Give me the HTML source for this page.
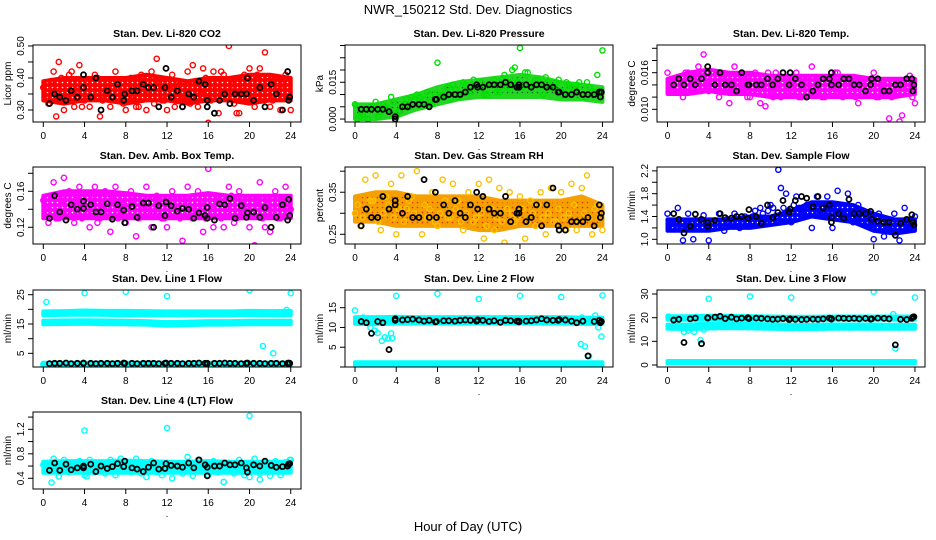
<!DOCTYPE html>
<html><head><meta charset="utf-8"><title>NWR_150212 Std. Dev. Diagnostics</title>
<style>
html,body{margin:0;padding:0;background:#fff;}
svg{display:block;font-family:"Liberation Sans",Arial,sans-serif;}
</style></head>
<body>
<svg id="chart" width="936" height="540" viewBox="0 0 936 540" xmlns="http://www.w3.org/2000/svg">
<defs id="defs"></defs>
<rect x="0" y="0" width="936" height="540" fill="#fff"/>
<text x="468" y="14" text-anchor="middle" font-size="13">NWR_150212  Std. Dev. Diagnostics</text>
<text x="468" y="531" text-anchor="middle" font-size="13">Hour of Day (UTC)</text>
</svg>
<script>
// ---------- shared data ----------
const xTicks = [0,4,8,12,16,20,24];
const blackT = [0.6,1.1,1.6,2.2,2.7,3.3,3.9,3.9,4.6,5.1,5.6,6.2,6.7,7.2,7.8,7.9,8.6,9.1,9.7,10.2,10.7,11.2,11.8,11.9,12.4,13.0,13.5,14.1,14.6,15.1,15.7,15.9,15.9,16.6,17.1,17.6,18.1,18.6,19.2,19.7,19.8,20.4,21.0,21.5,22.1,22.6,23.2,23.7,23.8,23.9];

// ---------- CO2 ----------
const co2Lo = [0.33,0.32,0.33,0.33,0.32,0.33,0.33,0.32,0.33,0.33,0.32,0.33,0.33];
const co2Hi = [0.39,0.40,0.40,0.40,0.40,0.41,0.40,0.39,0.40,0.40,0.41,0.41,0.40];
const co2A = [0.37,0.32,0.42,0.45,0.30,0.41,0.31,0.44,0.33,0.31,0.41,0.28,0.36,0.31,0.42,0.33,0.30,0.40,0.31,0.41,0.30,0.42,0.46,0.33,0.30,0.41,0.36,0.31,0.42,0.44,0.31,0.43,0.26,0.42,0.29,0.41,0.50,0.32,0.29,0.41,0.43,0.31,0.43,0.48,0.31,0.40,0.30,0.41,0.30];
const co2B = [0.34,0.39,0.28,0.40,0.33,0.42,0.36,0.31,0.39,0.34,0.40,0.33,0.35,0.39,0.34,0.32,0.39,0.33,0.31,0.39,0.35,0.32,0.39,0.33,0.37,0.31,0.38,0.34,0.32,0.39,0.35,0.40,0.33,0.37,0.42,0.34,0.38,0.29,0.36,0.40,0.34,0.41,0.35,0.39,0.33,0.36,0.38,0.34];
const co2Black = [0.32,0.35,0.34,0.33,0.36,0.34,0.41,0.37,0.34,0.40,0.30,0.36,0.34,0.38,0.33,0.35,0.36,0.36,0.38,0.37,0.37,0.31,0.37,0.43,0.34,0.36,0.31,0.35,0.34,0.39,0.38,0.33,0.31,0.29,0.33,0.35,0.32,0.35,0.35,0.35,0.40,0.33,0.37,0.31,0.38,0.35,0.30,0.42,0.33,0.34];

// ---------- Pressure ----------
const prLo = [0.000,0.000,0.001,0.004,0.006,0.008,0.009,0.009,0.009,0.009,0.008,0.008,0.007];
const prHi = [0.006,0.006,0.008,0.010,0.013,0.015,0.016,0.017,0.018,0.017,0.015,0.014,0.013];
const prA = [0.006,0.001,0.004,0.005,0.007,0.003,0.005,0.009,0.001,0.005,0.008,0.009,0.010,0.005,0.011,0.006,0.023,0.010,0.013,0.014,0.009,0.015,0.011,0.016,0.013,0.010,0.014,0.016,0.011,0.018,0.015,0.021,0.029,0.019,0.013,0.016,0.014,0.017,0.013,0.015,0.011,0.015,0.013,0.014,0.010,0.015,0.011,0.018,0.028];
const prB = [0.000,0.002,0.000,0.005,0.001,0.006,0.004,0.007,0.003,0.006,0.005,0.008,0.009,0.008,0.007,0.010,0.009,0.011,0.008,0.012,0.010,0.014,0.011,0.013,0.015,0.010,0.014,0.011,0.016,0.013,0.020,0.015,0.013,0.019,0.014,0.016,0.010,0.015,0.013,0.016,0.011,0.014,0.013,0.015,0.009,0.013,0.011,0.010];
const prBlack = [0.004,0.004,0.004,0.004,0.004,0.003,0.001,0.000,0.005,0.005,0.006,0.006,0.006,0.005,0.008,0.008,0.009,0.010,0.010,0.010,0.011,0.013,0.014,0.013,0.013,0.014,0.014,0.014,0.015,0.014,0.013,0.014,0.013,0.014,0.013,0.014,0.014,0.013,0.013,0.011,0.011,0.010,0.010,0.011,0.010,0.010,0.010,0.011,0.009,0.011];

// ---------- Li-820 Temp ----------
const tpLo = [0.0125,0.0125,0.013,0.0125,0.0125,0.012,0.012,0.012,0.012,0.012,0.012,0.012,0.0125];
const tpHi = [0.0150,0.0160,0.0165,0.0160,0.0160,0.0155,0.0155,0.0155,0.0155,0.0155,0.0150,0.0150,0.0150];
const tpA = [0.016,0.013,0.015,0.012,0.016,0.014,0.017,0.019,0.013,0.016,0.012,0.015,0.011,0.017,0.013,0.015,0.012,0.016,0.011,0.0105,0.013,0.016,0.012,0.015,0.013,0.016,0.012,0.015,0.017,0.013,0.012,0.015,0.013,0.016,0.012,0.015,0.013,0.011,0.015,0.013,0.016,0.012,0.014,0.0085,0.0125,0.008,0.014,0.0155,0.011];
const tpB = [0.014,0.015,0.013,0.016,0.014,0.015,0.013,0.014,0.016,0.013,0.015,0.014,0.013,0.015,0.014,0.012,0.015,0.013,0.014,0.016,0.012,0.014,0.015,0.013,0.014,0.012,0.015,0.014,0.013,0.015,0.012,0.014,0.016,0.013,0.014,0.015,0.012,0.014,0.013,0.015,0.012,0.014,0.013,0.012,0.014,0.009,0.013,0.012];
const tpBlack = [0.014,0.015,0.014,0.015,0.014,0.015,0.016,0.017,0.014,0.016,0.014,0.014,0.013,0.016,0.014,0.014,0.014,0.014,0.015,0.014,0.015,0.016,0.014,0.016,0.015,0.014,0.012,0.013,0.014,0.015,0.015,0.016,0.014,0.014,0.015,0.015,0.014,0.014,0.013,0.014,0.015,0.015,0.013,0.013,0.014,0.014,0.015,0.015,0.013,0.014];

// ---------- Amb Box Temp ----------
const abLo = [0.13,0.13,0.13,0.13,0.13,0.13,0.13,0.13,0.13,0.13,0.13,0.13,0.13];
const abHi = [0.155,0.16,0.16,0.16,0.158,0.155,0.155,0.155,0.158,0.155,0.155,0.155,0.155];
const abA = [0.15,0.125,0.17,0.13,0.175,0.16,0.125,0.165,0.14,0.12,0.165,0.13,0.16,0.115,0.165,0.135,0.125,0.16,0.11,0.14,0.165,0.12,0.155,0.13,0.12,0.16,0.135,0.105,0.165,0.13,0.16,0.115,0.185,0.12,0.15,0.12,0.165,0.125,0.16,0.135,0.12,0.10,0.17,0.12,0.115,0.16,0.13,0.165,0.14];
const abB = [0.14,0.155,0.13,0.15,0.135,0.145,0.15,0.13,0.14,0.155,0.125,0.145,0.14,0.15,0.13,0.145,0.14,0.15,0.13,0.145,0.14,0.135,0.15,0.13,0.145,0.14,0.13,0.15,0.14,0.135,0.145,0.13,0.14,0.15,0.13,0.14,0.155,0.13,0.145,0.14,0.135,0.15,0.13,0.145,0.14,0.13,0.15,0.14];
const abBlack = [0.13,0.155,0.137,0.128,0.145,0.14,0.149,0.141,0.145,0.137,0.137,0.146,0.129,0.145,0.139,0.125,0.143,0.131,0.147,0.147,0.12,0.144,0.133,0.148,0.144,0.138,0.141,0.14,0.13,0.136,0.133,0.142,0.13,0.128,0.146,0.145,0.152,0.13,0.144,0.131,0.136,0.137,0.131,0.142,0.12,0.131,0.145,0.128,0.151,0.133];

// ---------- Gas Stream RH ----------
const rhLo = [0.28,0.28,0.27,0.27,0.27,0.27,0.26,0.26,0.27,0.27,0.27,0.27,0.27];
const rhHi = [0.34,0.35,0.35,0.34,0.34,0.34,0.34,0.33,0.33,0.33,0.33,0.34,0.32];
const rhA = [0.30,0.27,0.38,0.33,0.39,0.26,0.34,0.37,0.25,0.39,0.31,0.34,0.40,0.25,0.29,0.35,0.27,0.38,0.29,0.37,0.33,0.26,0.35,0.28,0.37,0.24,0.38,0.26,0.36,0.23,0.35,0.28,0.34,0.24,0.33,0.27,0.35,0.25,0.36,0.28,0.35,0.26,0.37,0.26,0.36,0.39,0.25,0.32,0.26];
const rhB = [0.32,0.29,0.31,0.33,0.28,0.30,0.32,0.29,0.31,0.28,0.33,0.30,0.29,0.32,0.31,0.28,0.30,0.33,0.29,0.31,0.28,0.30,0.32,0.29,0.30,0.27,0.31,0.29,0.28,0.31,0.30,0.29,0.31,0.28,0.30,0.32,0.29,0.30,0.28,0.31,0.29,0.30,0.32,0.28,0.30,0.29,0.31,0.29];
const rhBlack = [0.27,0.31,0.29,0.29,0.34,0.31,0.33,0.32,0.30,0.34,0.29,0.29,0.38,0.29,0.35,0.29,0.32,0.30,0.33,0.30,0.29,0.32,0.35,0.31,0.34,0.31,0.30,0.30,0.34,0.28,0.30,0.31,0.30,0.28,0.29,0.32,0.27,0.32,0.36,0.27,0.26,0.26,0.28,0.28,0.28,0.29,0.27,0.32,0.29,0.30];

// ---------- Sample Flow ----------
const sfLo = [1.15,1.15,1.15,1.2,1.2,1.25,1.3,1.4,1.35,1.3,1.15,1.1,1.15];
const sfHi = [1.35,1.35,1.35,1.35,1.4,1.4,1.5,1.65,1.65,1.6,1.45,1.35,1.35];
const sfA = [1.45,1.2,1.55,0.98,1.45,1.0,1.3,1.42,0.98,1.2,1.45,1.15,1.3,1.45,1.2,1.4,1.25,1.5,1.55,1.3,1.6,1.4,1.9,1.8,1.3,1.75,1.45,1.6,1.2,1.75,1.4,1.75,1.2,1.85,1.55,1.8,1.3,1.6,1.5,1.35,1.0,1.45,1.05,1.2,1.45,0.98,1.55,1.2,1.4];
const sfB = [1.25,1.3,1.2,1.25,1.3,1.2,1.28,1.25,1.3,1.28,1.3,1.35,1.3,1.32,1.35,1.3,1.4,1.38,1.45,1.5,1.55,2.22,1.55,1.5,1.6,1.55,1.5,1.6,1.55,1.5,1.45,1.55,1.5,1.45,1.4,1.5,1.35,1.3,1.4,1.25,1.3,1.2,1.25,1.15,1.3,1.2,1.25,1.3];
const sfBlack = [1.45,1.35,1.11,1.23,1.44,1.35,1.29,1.23,1.33,1.45,1.38,1.37,1.40,1.40,1.37,1.52,1.40,1.28,1.60,1.38,1.47,1.68,1.48,1.53,1.68,1.75,1.72,1.57,1.75,1.55,1.6,1.3,1.38,1.45,1.37,1.70,1.45,1.45,1.45,1.49,1.35,1.32,1.30,1.30,1.07,1.28,1.35,1.43,1.3,1.25];

// ---------- Line 1 ----------
const l1UpLo = [18.0,18.1,18.2,18.1,18.0,18.0,18.0,18.0,18.0,18.0,18.1,18.0,18.0];
const l1UpHi = [19.3,19.4,19.6,19.5,19.5,19.4,19.3,19.3,19.3,19.3,19.5,19.4,19.5];
const l1MidLo = [14.9,15.0,15.1,14.9,14.9,14.8,14.4,14.6,14.8,14.8,14.9,14.9,14.9];
const l1MidHi = [16.1,16.2,16.3,16.2,16.1,16.0,15.7,15.8,16.0,16.0,16.1,16.1,16.1];
const l1BotLo = [1.0,1.0,1.0,1.0,1.0,1.0,1.0,1.0,1.0,1.0,1.0,1.0,1.0];
const l1BotHi = [1.8,1.8,1.8,1.8,1.8,1.8,1.8,1.8,1.8,1.8,1.8,1.8,1.8];
const l1OutT = [0,0.3,4,8,12,20,21.3,22.3,24,23.6];
const l1OutV = [1.3,22.5,25.5,26,24.5,26.5,7.5,5,25.5,19.8];
const l1Black = [1.5,1.6,1.6,1.7,1.5,1.6,1.6,1.7,1.6,1.5,1.6,1.6,1.5,1.6,1.7,1.6,1.6,1.5,1.6,1.6,1.6,1.5,1.6,1.7,1.6,1.6,1.5,1.6,1.6,1.7,1.6,1.6,1.5,1.6,1.6,1.7,1.6,1.6,1.5,1.6,1.7,1.6,1.6,1.5,1.6,1.6,1.5,1.6,1.7,1.6];

// ---------- Line 2 ----------
const l2MidLo = [10.9,10.8,11.0,11.0,11.0,11.0,11.0,11.0,11.0,11.0,11.0,10.9,10.9];
const l2MidHi = [12.6,12.6,12.7,12.6,12.6,12.6,12.6,12.6,12.6,12.6,12.6,12.5,12.5];
const l2BotLo = [0.4,0.4,0.4,0.4,0.4,0.4,0.4,0.4,0.4,0.4,0.4,0.4,0.4];
const l2BotHi = [1.2,1.2,1.2,1.2,1.2,1.2,1.2,1.2,1.2,1.2,1.2,1.2,1.2];
const l2OutT = [0,4,8,12,16,20,24,1.5,1.9,2.2,2.6,2.9,3.2,3.5,3.6,21.9,22.3,22.7,23.3,23.6,23.9,0.8,22.0];
const l2OutV = [14.3,18,18.5,17.2,18,17.7,18.1,10,9.2,8.6,6.6,7.5,7.2,8.5,7.3,5.8,5.2,2.8,13,10,7.7,12.5,12.5];
const l2Black = [11.5,11.2,8.5,11.5,11.2,4.4,11.8,12.2,11.9,12.0,12.1,11.9,11.6,11.8,11.4,11.5,11.7,11.7,11.6,11.8,11.9,11.8,11.6,11.9,11.8,11.5,11.7,11.3,11.8,11.7,11.6,11.6,11.4,11.6,11.7,11.9,12.2,11.9,11.8,11.8,12.0,11.9,11.6,11.2,11.6,2.8,11.5,11.8,11.2,11.5];

// ---------- Line 3 ----------
const l3UpLo = [19.2,19.2,19.3,19.3,19.2,19.2,19.2,19.2,19.2,19.2,19.2,19.2,19.2];
const l3UpHi = [20.6,20.6,20.8,20.8,20.6,20.5,20.4,20.4,20.5,20.5,20.5,20.5,20.5];
const l3MidLo = [15.3,15.2,15.4,15.6,15.5,15.3,15.2,15.2,15.3,15.3,15.3,15.3,15.3];
const l3MidHi = [17.0,17.1,17.5,17.6,17.4,17.2,17.0,17.0,17.1,17.1,17.1,17.0,17.0];
const l3BotLo = [0.7,0.7,0.7,0.7,0.7,0.7,0.7,0.7,0.7,0.7,0.7,0.7,0.7];
const l3BotHi = [1.7,1.7,1.7,1.7,1.7,1.7,1.7,1.7,1.7,1.7,1.7,1.7,1.7];
const l3OutT = [4,8,12,20,24,1.6,2.0,2.6,3.2,3.5,21.9,22.1,0.1];
const l3OutV = [28,29,28.5,31,28.5,14,14.5,14,10.5,15,21.5,7,20.5];
const l3Black = [19,19.3,9.5,19.5,19.8,9.0,20,19.8,20.2,20.6,19.6,20.2,19.5,19.8,20,19.6,19.8,19.7,19.5,19.3,19.4,19.6,19.2,19.5,19.3,19.2,19.3,19.4,19.3,19.5,19.8,19.6,19.4,19.8,19.7,19.6,19.7,19.5,19.7,19.4,19.5,19.8,19.7,19.5,8.5,19.3,19.2,19.7,20.2,20.4];

// ---------- Line 4 ----------
const l4Lo = [0.49,0.49,0.49,0.49,0.49,0.49,0.49,0.49,0.49,0.49,0.49,0.49,0.49];
const l4Hi = [0.67,0.68,0.68,0.68,0.69,0.68,0.67,0.67,0.68,0.67,0.67,0.67,0.67];
const l4A = [0.62,0.55,0.72,0.43,0.7,0.5,0.62,0.68,0.45,0.7,0.5,0.65,0.48,0.7,0.45,0.72,0.6,0.5,0.72,0.48,0.42,0.68,0.5,0.45,0.65,0.4,0.62,0.48,0.75,0.44,0.7,0.52,0.45,0.68,0.5,0.34,0.65,0.48,0.7,0.45,0.42,0.72,0.48,0.66,0.44,0.68,0.45,0.66,0.7];
const l4OutT = [4,12,20,0.8,17.5,21,4.2,23.9];
const l4OutV = [1.18,1.22,1.42,0.33,0.34,0.38,0.43,0.7];
const l4Black = [0.53,0.65,0.53,0.63,0.54,0.57,0.6,0.57,0.63,0.51,0.6,0.56,0.59,0.64,0.59,0.68,0.57,0.55,0.51,0.58,0.65,0.55,0.56,0.64,0.61,0.6,0.58,0.65,0.57,0.7,0.62,0.44,0.58,0.6,0.6,0.65,0.62,0.62,0.65,0.57,0.5,0.62,0.6,0.68,0.61,0.58,0.59,0.6,0.63,0.64];

// ---------- layout ----------
const NS = "http://www.w3.org/2000/svg";
const svg = document.getElementById('chart');
const defs = document.getElementById('defs');
const colLeft = [33, 345, 657];
const colX0 = [43.3, 355, 667.5];
const boxW = 268;
const rowTop = [45, 167, 290, 412];
const boxH = 77;
const PXH = 10.31;

function mk(tag, attrs, parent){
  const e = document.createElementNS(NS, tag);
  for (const k in attrs) e.setAttribute(k, attrs[k]);
  (parent || svg).appendChild(e);
  return e;
}

let patCount = 0;
function makePattern(color, dark){
  const id = 'pat' + (patCount++);
  const p = mk('pattern', {id: id, patternUnits: 'userSpaceOnUse', width: 5, height: 5}, defs);
  mk('rect', {x: 0, y: 0, width: 5, height: 5, fill: color}, p);
  mk('circle', {cx: 2.5, cy: 2.5, r: 0.8, fill: dark}, p);
  return 'url(#' + id + ')';
}

function drawPanel(p){
  const left = colLeft[p.col], top = rowTop[p.row], bottom = top + boxH;
  const xs = t => colX0[p.col] + t * PXH;
  const ys = v => bottom - (v - p.dmin) / (p.dmax - p.dmin) * boxH;
  const g = mk('g', {});
  
  
  const clipId = 'clip-' + p.name;
  const cp = mk('clipPath', {id: clipId}, g);
  mk('rect', {x: left, y: top, width: boxW, height: boxH}, cp);
  const plot = mk('g', {'clip-path': 'url(#' + clipId + ')'}, g);
  
  

  const fill = p.texture ? makePattern(p.bandColor, p.texture) : p.bandColor;
  (p.bands || []).forEach(b => {
    const lo = b[0], hi = b[1];
    let pts = [];
    for (let i = 0; i < hi.length; i++) pts.push(xs(i * 2) + ',' + ys(hi[i]));
    for (let i = lo.length - 1; i >= 0; i--) pts.push(xs(i * 2) + ',' + ys(lo[i]));
    const poly = mk('polygon', {points: pts.join(' '), fill: fill, stroke: p.bandColor, 'stroke-width': 4, 'stroke-linejoin': 'round'}, plot);
    
    
  });
  function pt(t, v, color, sw, r, nm){
    const c = mk('circle', {cx: xs(t), cy: ys(v), r: r, fill: 'none', stroke: color, 'stroke-width': sw}, plot);
    
    
  }
  (p.clouds || []).forEach((arr, ci) => {
    arr.forEach((v, i) => pt(i * 0.5 + ci * 0.25, v, p.color, 1.4, 2.6, p.name + '-point'));
  });
  if (p.outT) p.outT.forEach((t, i) => pt(t, p.outV[i], p.color, 1.4, 2.6, p.name + '-outlier'));
  p.black.forEach((v, i) => pt(blackT[i], v, '#000', 1.8, 2.5, p.name + '-hourly-point'));

  const box = mk('rect', {x: left, y: top, width: boxW, height: boxH, fill: 'none', stroke: '#000', 'stroke-width': 1}, g);
  
  

  xTicks.forEach(t => {
    const x = xs(t);
    mk('line', {x1: x, y1: bottom, x2: x, y2: bottom + 5, stroke: '#000'}, g);
    const tx = mk('text', {x: x, y: bottom + 17, 'text-anchor': 'middle', 'font-size': 10}, g);
    tx.textContent = t;
    
    
  });
  const dot = mk('text', {x: left + boxW / 2, y: bottom + 28, 'text-anchor': 'middle', 'font-size': 9}, g);
  dot.textContent = '.';
  
  

  p.yTicks.forEach(v => {
    const y = ys(v);
    if (y < top - 1 || y > bottom + 1) return;
    mk('line', {x1: left - 5, y1: y, x2: left, y2: y, stroke: '#000'}, g);
  });
  p.yLabels.forEach(v => {
    const y = ys(v);
    const tx = mk('text', {x: 0, y: 0, 'text-anchor': 'middle', 'font-size': 10, transform: 'translate(' + (left - 9) + ',' + y + ') rotate(-90)'}, g);
    tx.textContent = v.toFixed(p.dec);
    
    
  });
  const yl = mk('text', {x: 0, y: 0, 'text-anchor': 'middle', 'font-size': 10, transform: 'translate(' + (left - 22) + ',' + (top + boxH / 2) + ') rotate(-90)'}, g);
  yl.textContent = p.ylab;
  
  
  const tt = mk('text', {x: left + boxW / 2, y: top - 8, 'text-anchor': 'middle', 'font-size': 10.5, 'font-weight': 'bold'}, g);
  tt.textContent = p.title;
  
  
}

const panels = [
  {name:'co2', row:0, col:0, title:'Stan. Dev. Li-820 CO2', ylab:'Licor ppm', dmin:0.2625, dmax:0.503, dec:2,
   yTicks:[0.30,0.35,0.40,0.45,0.50], yLabels:[0.30,0.40,0.50], color:'#ff0000', bandColor:'#ff0000', texture:'#ffffff',
   bands:[[co2Lo,co2Hi]], clouds:[co2A,co2B], black:co2Black},
  {name:'pressure', row:0, col:1, title:'Stan. Dev. Li-820 Pressure', ylab:'kPa', dmin:-0.0012, dmax:0.0302, dec:3,
   yTicks:[0,0.005,0.010,0.015,0.020,0.025,0.030], yLabels:[0,0.015], color:'#00e000', bandColor:'#22d822', texture:'#006600',
   bands:[[prLo,prHi]], clouds:[prA,prB], black:prBlack},
  {name:'li820-temp', row:0, col:2, title:'Stan. Dev. Li-820 Temp.', ylab:'degrees C', dmin:0.00792, dmax:0.02054, dec:3,
   yTicks:[0.010,0.012,0.014,0.016,0.018,0.020], yLabels:[0.010,0.016], color:'#ff00ff', bandColor:'#ff00ff', texture:'#ffffff',
   bands:[[tpLo,tpHi]], clouds:[tpA,tpB], black:tpBlack},
  {name:'amb-box-temp', row:1, col:0, title:'Stan. Dev. Amb. Box Temp.', ylab:'degrees C', dmin:0.1014, dmax:0.187, dec:2,
   yTicks:[0.12,0.14,0.16,0.18], yLabels:[0.12,0.16], color:'#ff00ff', bandColor:'#ff00ff', texture:'#ffffff',
   bands:[[abLo,abHi]], clouds:[abA,abB], black:abBlack},
  {name:'gas-rh', row:1, col:1, title:'Stan. Dev. Gas Stream RH', ylab:'percent', dmin:0.2269, dmax:0.410, dec:2,
   yTicks:[0.25,0.30,0.35,0.40], yLabels:[0.25,0.35], color:'#ffc000', bandColor:'#f5a000', texture:'#e03000',
   bands:[[rhLo,rhHi]], clouds:[rhA,rhB], black:rhBlack},
  {name:'sample-flow', row:1, col:2, title:'Stan. Dev. Sample Flow', ylab:'ml/min', dmin:0.9175, dmax:2.268, dec:1,
   yTicks:[1.0,1.2,1.4,1.6,1.8,2.0,2.2], yLabels:[1.0,1.4,1.8,2.2], color:'#0000ff', bandColor:'#0000ff', texture:'#ffffff',
   bands:[[sfLo,sfHi]], clouds:[sfA,sfB], black:sfBlack},
  {name:'line1-flow', row:2, col:0, title:'Stan. Dev. Line 1 Flow', ylab:'ml/min', dmin:0.34, dmax:26.6, dec:0,
   yTicks:[5,10,15,20,25], yLabels:[5,15,25], color:'#00ffff', bandColor:'#00ffff',
   bands:[[l1UpLo,l1UpHi],[l1MidLo,l1MidHi],[l1BotLo,l1BotHi]], outT:l1OutT, outV:l1OutV, black:l1Black},
  {name:'line2-flow', row:2, col:1, title:'Stan. Dev. Line 2 Flow', ylab:'ml/min', dmin:0.0, dmax:19.47, dec:0,
   yTicks:[0,5,10,15], yLabels:[5,10,15], color:'#00ffff', bandColor:'#00ffff',
   bands:[[l2MidLo,l2MidHi],[l2BotLo,l2BotHi]], outT:l2OutT, outV:l2OutV, black:l2Black},
  {name:'line3-flow', row:2, col:2, title:'Stan. Dev. Line 3 Flow', ylab:'ml/min', dmin:-0.85, dmax:31.7, dec:0,
   yTicks:[0,10,20,30], yLabels:[0,10,20,30], color:'#00ffff', bandColor:'#00ffff',
   bands:[[l3UpLo,l3UpHi],[l3MidLo,l3MidHi],[l3BotLo,l3BotHi]], outT:l3OutT, outV:l3OutV, black:l3Black},
  {name:'line4-flow', row:3, col:0, title:'Stan. Dev. Line 4 (LT) Flow', ylab:'ml/min', dmin:0.225, dmax:1.483, dec:1,
   yTicks:[0.4,0.6,0.8,1.0,1.2,1.4], yLabels:[0.4,0.8,1.2], color:'#00ffff', bandColor:'#00ffff',
   bands:[[l4Lo,l4Hi]], clouds:[l4A], outT:l4OutT, outV:l4OutV, black:l4Black}
];
panels.forEach(drawPanel);
</script>
</body></html>
